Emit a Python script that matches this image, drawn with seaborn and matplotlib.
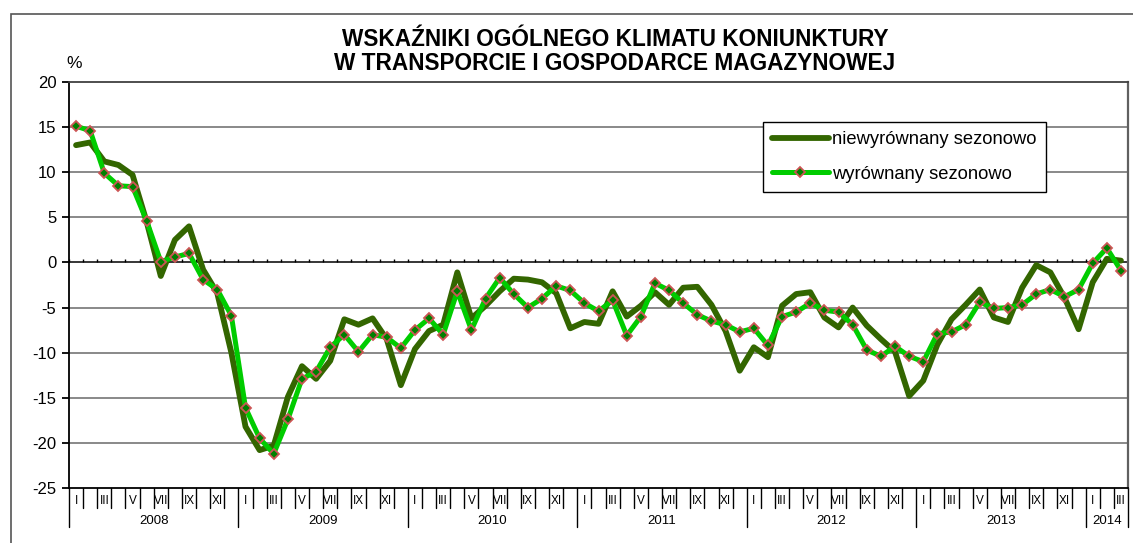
import numpy as np
import pandas as pd
import matplotlib
matplotlib.use("Agg")
import matplotlib.pyplot as plt
import matplotlib.transforms as mtransforms
from matplotlib.lines import Line2D
from matplotlib.patches import Rectangle
import seaborn as sns

sns.set_style("white")
plt.rcParams['font.family'] = ['Liberation Sans', 'DejaVu Sans']
plt.rcParams['axes.unicode_minus'] = False
plt.rcParams['text.color'] = 'black'
plt.rcParams['ytick.color'] = 'black'
plt.rcParams['ytick.labelcolor'] = 'black'

# Data, Jan 2008 - Mar 2014
years = [2008, 2009, 2010, 2011, 2012, 2013, 2014]
months_per_year = [12, 12, 12, 12, 12, 12, 3]
month_labels = ['I', '', 'III', '', 'V', '', 'VII', '', 'IX', '', 'XI', '']

unadjusted = [
    13.0, 13.3, 11.2, 10.8, 9.7, 4.5, -1.5, 2.5, 4.0, -0.8, -3.4, -10.0,
    -18.2, -20.8, -20.3, -14.9, -11.5, -12.9, -10.9, -6.3, -6.9, -6.2, -8.5, -13.6,
    -9.6, -7.6, -6.9, -1.1, -6.2, -4.8, -3.2, -1.8, -1.9, -2.2, -3.4, -7.3,
    -6.6, -6.8, -3.2, -6.0, -4.8, -3.3, -4.7, -2.8, -2.7, -4.7, -7.6, -12.0,
    -9.4, -10.5, -4.8, -3.5, -3.3, -6.1, -7.2, -5.0, -7.0, -8.5, -9.9, -14.8,
    -13.1, -9.1, -6.3, -4.7, -3.0, -6.1, -6.6, -2.8, -0.3, -1.1, -3.9, -7.4,
    -2.2, 0.4, 0.2,
]
adjusted = [
    15.1, 14.6, 9.9, 8.5, 8.4, 4.6, 0.1, 0.6, 1.0, -1.9, -3.0, -5.9,
    -16.1, -19.5, -21.2, -17.4, -12.9, -12.1, -9.4, -8.0, -9.9, -8.0, -8.3, -9.5,
    -7.5, -6.2, -8.0, -3.2, -7.5, -4.0, -1.7, -3.5, -5.0, -4.0, -2.6, -3.1,
    -4.5, -5.4, -4.2, -8.1, -6.0, -2.3, -3.1, -4.5, -5.8, -6.5, -6.9, -7.7,
    -7.3, -9.2, -6.0, -5.5, -4.5, -5.3, -5.5, -6.9, -9.7, -10.4, -9.3, -10.4,
    -11.0, -7.9, -7.7, -6.9, -4.4, -5.1, -5.0, -4.7, -3.5, -3.0, -3.8, -3.0,
    -0.1, 1.6, -0.9,
]
series_names = ['niewyrównany sezonowo', 'wyrównany sezonowo']
title_lines = ['WSKAŹNIKI OGÓLNEGO KLIMATU KONIUNKTURY',
               'W TRANSPORCIE I GOSPODARCE MAGAZYNOWEJ']

n = len(adjusted)
df = pd.DataFrame({'t': np.arange(n), 'niew': unadjusted, 'wyr': adjusted})

DARK = '#336600'
BRIGHT = '#00CC00'

W, H = 1133, 543
fig = plt.figure(figsize=(W / 100, H / 100), dpi=100)
ax = fig.add_axes([69 / W, 55 / H, 1059 / W, 406 / H])

# gridlines
for v in range(-20, 20, 5):
    if v == 0:
        ax.axhline(0, color='black', lw=1.1, zorder=2)
    else:
        ax.axhline(v, color='#808080', lw=1.3, zorder=1)

# small ticks on the zero line at month boundaries
ax.vlines(np.arange(n + 1) - 0.5, 0, 0.35, color='black', lw=1, zorder=2)

sns.lineplot(data=df, x='t', y='niew', color=DARK, lw=4.2, ax=ax, zorder=3)
sns.lineplot(data=df, x='t', y='wyr', color=BRIGHT, lw=3.6, marker='D',
             markersize=5.5, markerfacecolor='#008000',
             markeredgecolor='#CC5555', markeredgewidth=1.3, ax=ax, zorder=4)

ax.set_xlim(-0.5, n - 0.5)
ax.set_ylim(-25, 20)
ax.set_xlabel('')
ax.set_ylabel('')
ax.set_xticks([])
ax.set_yticks(range(-25, 21, 5))
ax.tick_params(axis='y', labelsize=12, length=5, width=1.3, direction='out',
               color='black', labelcolor='black', left=True, pad=4)

for side in ['left', 'bottom']:
    ax.spines[side].set_color('black')
    ax.spines[side].set_linewidth(1.3)
ax.spines['top'].set_color('#404040')
ax.spines['top'].set_linewidth(1.3)
ax.spines['right'].set_color('#606060')
ax.spines['right'].set_linewidth(1.6)

# category axis: months and years below the plot
trans = mtransforms.blended_transform_factory(ax.transData, ax.transAxes)
start = 0
for yr, cnt in zip(years, months_per_year):
    for m in range(cnt):
        i = start + m
        ax.text(i, -0.032, month_labels[m], transform=trans, ha='center',
                va='center', fontsize=8.5)
        if m > 0:
            ax.plot([i - 0.5, i - 0.5], [0, -0.049], transform=trans,
                    color='black', lw=1, clip_on=False)
    ax.plot([start - 0.5, start - 0.5], [0, -0.097], transform=trans,
            color='black', lw=1, clip_on=False)
    ax.text(start + cnt / 2 - 0.5, -0.081, str(yr), transform=trans,
            ha='center', va='center', fontsize=9.5)
    start += cnt
ax.plot([start - 0.5, start - 0.5], [0, -0.097], transform=trans,
        color='black', lw=1, clip_on=False)

# legend
handles = [
    Line2D([], [], color=DARK, lw=4.2),
    Line2D([], [], color=BRIGHT, lw=3.6, marker='D', markersize=5.5,
           markerfacecolor='#008000', markeredgecolor='#CC5555',
           markeredgewidth=1.3),
]
leg = ax.legend(handles, series_names, loc='upper left',
                bbox_to_anchor=(0.655, 0.901), borderaxespad=0,
                fontsize=13.2, handlelength=3.1, handletextpad=0.2,
                labelspacing=0.95, borderpad=0.5, fancybox=False,
                framealpha=1, edgecolor='black')
leg.get_frame().set_linewidth(1.0)
leg.set_zorder(6)

# titles and unit
fig.text(615 / W, 1 - 40 / H, title_lines[0], ha='center', va='center',
         fontsize=16.3, fontweight='bold', color='black')
fig.text(615 / W, 1 - 64 / H, title_lines[1], ha='center', va='center',
         fontsize=16.3, fontweight='bold', color='black')
fig.text(74 / W, 1 - 63 / H, '%', ha='center', va='center', fontsize=12.5)

# outer chart border (cut at right/bottom as in the reference)
fig.patches.append(Rectangle((11 / W, -0.1), 1.2, 1.1 - 14 / H,
                             transform=fig.transFigure, fill=False,
                             edgecolor='#555555', lw=1.2))

fig.savefig('out.png', dpi=100)
